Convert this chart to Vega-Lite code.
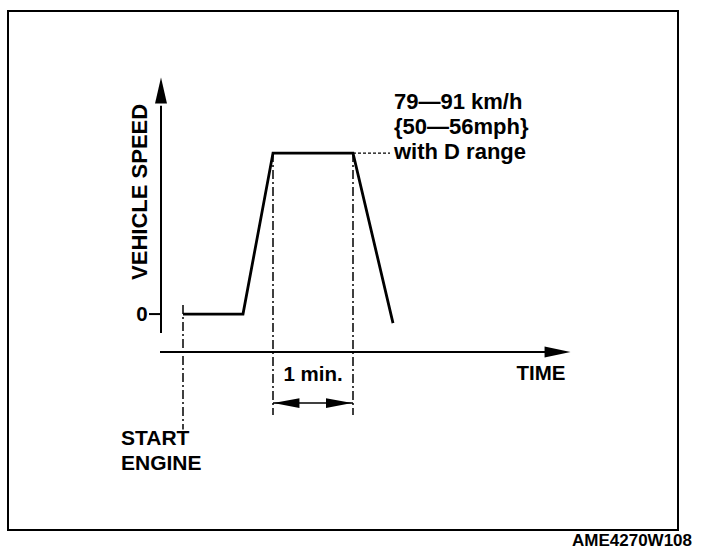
{
  "$schema": "https://vega.github.io/schema/vega-lite/v6.json",
  "width": 670,
  "height": 519,
  "autosize": {"type": "none"},
  "padding": {"left": 8, "top": 11, "right": 26, "bottom": 26},
  "background": "white",
  "config": {"view": {"stroke": "black", "strokeWidth": 2}, "font": "Liberation Sans"},
  "title": {"text": "AME4270W108", "orient": "bottom", "anchor": "end", "fontSize": 17, "fontWeight": "bold", "font": "Liberation Sans", "color": "black", "offset": 3, "dx": 14},
  "datasets": {
    "profile": [
      {"t": 0, "v": 0},
      {"t": 45, "v": 0},
      {"t": 67.5, "v": 85},
      {"t": 127.5, "v": 85},
      {"t": 157.5, "v": -4.75}
    ],
    "segments": [
      {"part": "speed axis", "kind": "axis", "t": -16.5, "v": -10, "t2": -16.5, "v2": 110},
      {"part": "time axis", "kind": "axis", "t": -17.25, "v": -20, "t2": 275, "v2": -20},
      {"part": "zero tick", "kind": "axis", "t": -25.5, "v": 0, "t2": -16.5, "v2": 0},
      {"part": "1 min span", "kind": "dim", "t": 67.5, "v": -47, "t2": 127.5, "v2": -47},
      {"part": "start engine", "kind": "guide", "t": 0, "v": 4.75, "t2": 0, "v2": -61},
      {"part": "reach speed", "kind": "guide", "t": 67.5, "v": 85, "t2": 67.5, "v2": -53.3},
      {"part": "end hold", "kind": "guide", "t": 127.5, "v": 85, "t2": 127.5, "v2": -53.3},
      {"part": "leader", "kind": "leader", "t": 127.5, "v": 85, "t2": 155.25, "v2": 85}
    ],
    "heads": [
      {"part": "speed axis", "dir": "up", "t": -16.5, "v": 118},
      {"part": "time axis", "dir": "axis-right", "t": 280.9, "v": -20},
      {"part": "1 min start", "dir": "dim-left", "t": 77.6, "v": -47},
      {"part": "1 min end", "dir": "dim-right", "t": 117, "v": -47}
    ],
    "labels": [
      {"label": "0", "group": "center", "t": -30.75, "v": -0.5},
      {"label": "TIME", "group": "center", "t": 268.5, "v": -31.7},
      {"label": "1 min.", "group": "center", "t": 97.5, "v": -32.2},
      {"label": "79—91 km/h", "group": "spec", "t": 158.25, "v": 111.9},
      {"label": "{50—56mph}", "group": "spec", "t": 158.25, "v": 98.7},
      {"label": "with D range", "group": "spec", "t": 158.25, "v": 85.6},
      {"label": "START", "group": "event", "t": -46.5, "v": -66},
      {"label": "ENGINE", "group": "event", "t": -46.5, "v": -79.2},
      {"label": "VEHICLE SPEED", "group": "vertical", "t": -32.25, "v": 64.5}
    ]
  },
  "layer": [
    {
      "data": {"name": "segments"},
      "transform": [{"filter": "datum.kind === 'axis'"}],
      "mark": {"type": "rule", "color": "black", "strokeWidth": 2},
      "encoding": {
        "x": {"field": "t", "type": "quantitative", "scale": {"domain": [-131.25, 371.25], "nice": false, "zero": false}, "axis": null},
        "y": {"field": "v", "type": "quantitative", "scale": {"domain": [-114, 160], "nice": false, "zero": false}, "axis": null},
        "x2": {"field": "t2"},
        "y2": {"field": "v2"}
      }
    },
    {
      "data": {"name": "segments"},
      "transform": [{"filter": "datum.kind === 'dim'"}],
      "mark": {"type": "rule", "color": "black", "strokeWidth": 1.5},
      "encoding": {
        "x": {"field": "t", "type": "quantitative", "scale": {"domain": [-131.25, 371.25], "nice": false, "zero": false}, "axis": null},
        "y": {"field": "v", "type": "quantitative", "scale": {"domain": [-114, 160], "nice": false, "zero": false}, "axis": null},
        "x2": {"field": "t2"},
        "y2": {"field": "v2"}
      }
    },
    {
      "data": {"name": "segments"},
      "transform": [{"filter": "datum.kind === 'guide'"}],
      "mark": {"type": "rule", "color": "black", "strokeWidth": 1.5, "strokeDash": [9, 3, 2, 3]},
      "encoding": {
        "x": {"field": "t", "type": "quantitative", "scale": {"domain": [-131.25, 371.25], "nice": false, "zero": false}, "axis": null},
        "y": {"field": "v", "type": "quantitative", "scale": {"domain": [-114, 160], "nice": false, "zero": false}, "axis": null},
        "x2": {"field": "t2"},
        "y2": {"field": "v2"}
      }
    },
    {
      "data": {"name": "segments"},
      "transform": [{"filter": "datum.kind === 'leader'"}],
      "mark": {"type": "rule", "color": "black", "strokeWidth": 1.2, "strokeDash": [3, 2]},
      "encoding": {
        "x": {"field": "t", "type": "quantitative", "scale": {"domain": [-131.25, 371.25], "nice": false, "zero": false}, "axis": null},
        "y": {"field": "v", "type": "quantitative", "scale": {"domain": [-114, 160], "nice": false, "zero": false}, "axis": null},
        "x2": {"field": "t2"},
        "y2": {"field": "v2"}
      }
    },
    {
      "data": {"name": "profile"},
      "mark": {"type": "line", "color": "black", "strokeWidth": 2.8, "strokeJoin": "miter"},
      "encoding": {
        "x": {"field": "t", "type": "quantitative", "scale": {"domain": [-131.25, 371.25], "nice": false, "zero": false}, "axis": null},
        "y": {"field": "v", "type": "quantitative", "scale": {"domain": [-114, 160], "nice": false, "zero": false}, "axis": null}
      }
    },
    {
      "data": {"name": "heads"},
      "mark": {"type": "point", "filled": true, "color": "black", "opacity": 1, "size": 676, "strokeWidth": 0},
      "encoding": {
        "x": {"field": "t", "type": "quantitative", "scale": {"domain": [-131.25, 371.25], "nice": false, "zero": false}, "axis": null},
        "y": {"field": "v", "type": "quantitative", "scale": {"domain": [-114, 160], "nice": false, "zero": false}, "axis": null},
        "shape": {"field": "dir", "type": "nominal", "legend": null, "scale": {"domain": ["up", "axis-right", "dim-left", "dim-right"], "range": ["M0,-1L-0.46,1L0.46,1Z", "M1,0L-1,-0.42L-1,0.42Z", "M-1,0L1,-0.38L1,0.38Z", "M1,0L-1,-0.38L-1,0.38Z"]}}
      }
    },
    {
      "data": {"name": "labels"},
      "transform": [{"filter": "datum.group === 'center'"}],
      "mark": {"type": "text", "align": "center", "baseline": "middle", "fontSize": 20.5, "fontWeight": "bold", "font": "Liberation Sans", "color": "black"},
      "encoding": {
        "x": {"field": "t", "type": "quantitative", "scale": {"domain": [-131.25, 371.25], "nice": false, "zero": false}, "axis": null},
        "y": {"field": "v", "type": "quantitative", "scale": {"domain": [-114, 160], "nice": false, "zero": false}, "axis": null},
        "text": {"field": "label"}
      }
    },
    {
      "data": {"name": "labels"},
      "transform": [{"filter": "datum.group === 'spec'"}],
      "mark": {"type": "text", "align": "left", "baseline": "middle", "fontSize": 22, "fontWeight": "bold", "font": "Liberation Sans", "color": "black"},
      "encoding": {
        "x": {"field": "t", "type": "quantitative", "scale": {"domain": [-131.25, 371.25], "nice": false, "zero": false}, "axis": null},
        "y": {"field": "v", "type": "quantitative", "scale": {"domain": [-114, 160], "nice": false, "zero": false}, "axis": null},
        "text": {"field": "label"}
      }
    },
    {
      "data": {"name": "labels"},
      "transform": [{"filter": "datum.group === 'event'"}],
      "mark": {"type": "text", "align": "left", "baseline": "middle", "fontSize": 21, "fontWeight": "bold", "font": "Liberation Sans", "color": "black"},
      "encoding": {
        "x": {"field": "t", "type": "quantitative", "scale": {"domain": [-131.25, 371.25], "nice": false, "zero": false}, "axis": null},
        "y": {"field": "v", "type": "quantitative", "scale": {"domain": [-114, 160], "nice": false, "zero": false}, "axis": null},
        "text": {"field": "label"}
      }
    },
    {
      "data": {"name": "labels"},
      "transform": [{"filter": "datum.group === 'vertical'"}],
      "mark": {"type": "text", "align": "center", "baseline": "middle", "angle": 270, "fontSize": 22, "fontWeight": "bold", "font": "Liberation Sans", "color": "black"},
      "encoding": {
        "x": {"field": "t", "type": "quantitative", "scale": {"domain": [-131.25, 371.25], "nice": false, "zero": false}, "axis": null},
        "y": {"field": "v", "type": "quantitative", "scale": {"domain": [-114, 160], "nice": false, "zero": false}, "axis": null},
        "text": {"field": "label"}
      }
    }
  ]
}
